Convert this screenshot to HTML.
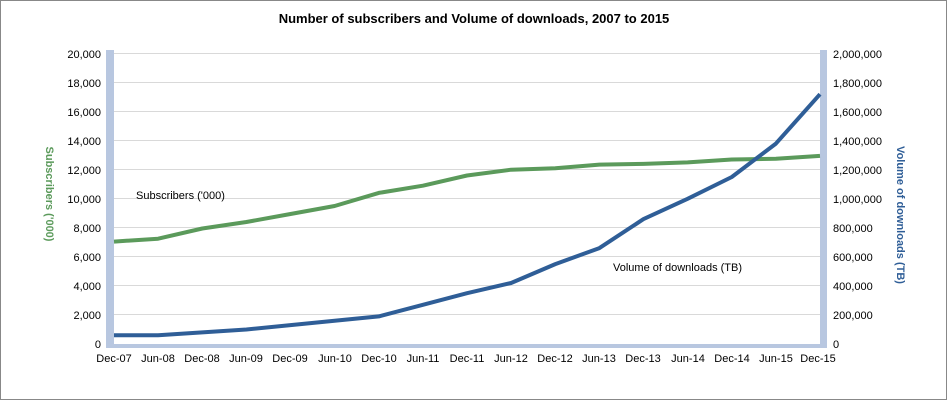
<!DOCTYPE html>
<html><head><meta charset="utf-8"><style>
body{margin:0;background:#fff}
svg{display:block;font-family:"Liberation Sans",sans-serif}
</style></head><body>
<svg width="948" height="401" viewBox="0 0 948 401">
<rect x="0.5" y="0.5" width="946" height="399" fill="#fff" stroke="#888"/>
<text x="474" y="23" font-size="13" font-weight="bold" text-anchor="middle" fill="#000">Number of subscribers and Volume of downloads, 2007  to 2015</text>
<g stroke="#d9d9d9" stroke-width="1">
<line x1="114" x2="820" y1="53.5" y2="53.5"/><line x1="114" x2="820" y1="82.5" y2="82.5"/>
<line x1="114" x2="820" y1="111.5" y2="111.5"/><line x1="114" x2="820" y1="140.5" y2="140.5"/>
<line x1="114" x2="820" y1="169.5" y2="169.5"/><line x1="114" x2="820" y1="198.5" y2="198.5"/>
<line x1="114" x2="820" y1="227.5" y2="227.5"/><line x1="114" x2="820" y1="256.5" y2="256.5"/>
<line x1="114" x2="820" y1="285.5" y2="285.5"/><line x1="114" x2="820" y1="314.5" y2="314.5"/>
</g>
<rect x="106" y="50" width="8" height="298" fill="#b8c7e0"/>
<rect x="820" y="50" width="7" height="298" fill="#b8c7e0"/>
<rect x="106" y="344" width="721" height="4" fill="#b8c7e0"/>
<g font-size="11" fill="#000" text-anchor="end">
<text x="101" y="58">20,000</text><text x="101" y="87">18,000</text><text x="101" y="116">16,000</text>
<text x="101" y="145">14,000</text><text x="101" y="174">12,000</text><text x="101" y="203">10,000</text>
<text x="101" y="232">8,000</text><text x="101" y="261">6,000</text><text x="101" y="290">4,000</text>
<text x="101" y="319">2,000</text><text x="101" y="348">0</text>
</g>
<g font-size="11" fill="#000">
<text x="833" y="58">2,000,000</text><text x="833" y="87">1,800,000</text><text x="833" y="116">1,600,000</text>
<text x="833" y="145">1,400,000</text><text x="833" y="174">1,200,000</text><text x="833" y="203">1,000,000</text>
<text x="833" y="232">800,000</text><text x="833" y="261">600,000</text><text x="833" y="290">400,000</text>
<text x="833" y="319">200,000</text><text x="833" y="348">0</text>
</g>
<g font-size="11" fill="#000" text-anchor="middle">
<text x="114" y="362">Dec-07</text><text x="158" y="362">Jun-08</text><text x="202" y="362">Dec-08</text>
<text x="246" y="362">Jun-09</text><text x="290" y="362">Dec-09</text><text x="335" y="362">Jun-10</text>
<text x="379" y="362">Dec-10</text><text x="423" y="362">Jun-11</text><text x="467" y="362">Dec-11</text>
<text x="511" y="362">Jun-12</text><text x="555" y="362">Dec-12</text><text x="599" y="362">Jun-13</text>
<text x="643" y="362">Dec-13</text><text x="688" y="362">Jun-14</text><text x="732" y="362">Dec-14</text>
<text x="776" y="362">Jun-15</text><text x="818" y="362">Dec-15</text>
</g>
<polyline fill="none" stroke="#5b9a5b" stroke-width="4" stroke-linejoin="round" points="114,241.6 158.1,238.7 202.3,228.5 246.4,222 290.5,214 334.6,206 378.8,192.9 422.9,185.7 467,175.5 511.1,169.7 555.3,168.2 599.4,164.6 643.5,163.9 687.6,162.4 731.8,159.5 775.9,158.8 820,155.9"/>
<polyline fill="none" stroke="#2f5e97" stroke-width="4" stroke-linejoin="round" points="114,335.3 158.1,335.3 202.3,332.4 246.4,329.5 290.5,325.1 334.6,320.8 378.8,316.4 422.9,304.8 467,293.2 511.1,283 555.3,264.1 599.4,248.1 643.5,219.1 687.6,198.8 731.8,177 775.9,143.6 820,94.2"/>
<text x="136" y="199" font-size="11" fill="#000">Subscribers ('000)</text>
<text x="613" y="271" font-size="11" fill="#000">Volume of downloads (TB)</text>
<text transform="translate(46,194) rotate(90)" font-size="11" font-weight="bold" fill="#5b9a5b" text-anchor="middle">Subscribers ('000)</text>
<text transform="translate(897,215) rotate(90)" font-size="11" font-weight="bold" fill="#2f5e97" text-anchor="middle">Volume of downloads (TB)</text>
</svg>
</body></html>
